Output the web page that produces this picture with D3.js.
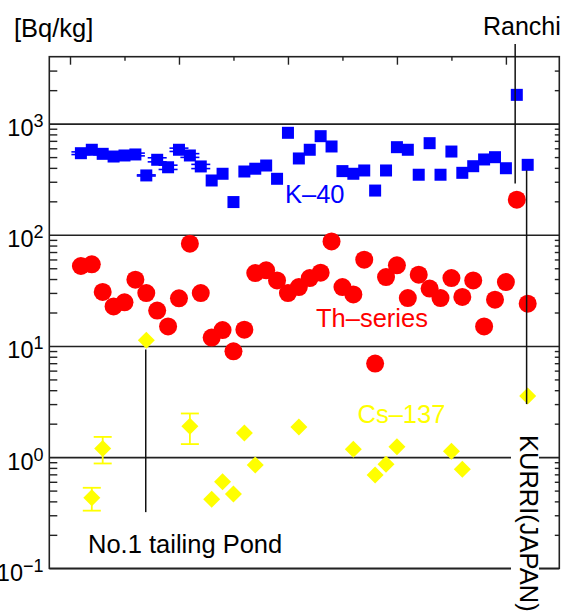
<!DOCTYPE html>
<html><head><meta charset="utf-8">
<script src="https://cdn.jsdelivr.net/npm/d3@7"></script>
<style>html,body{margin:0;padding:0;background:#fff}svg{display:block}text{font-family:"Liberation Sans",Arial,sans-serif}</style>
</head><body>
<svg id="c" width="565" height="614"></svg>
<script>
// ---- data ----
const k40X = [1,2,3,4,5,6,7,8,9,10,11,12,13,14,15,16,17,18,19,20,21,22,23,24,25,26,27,28,29,30,31,32,33,34,35,36,37,38,39,40,41,42];
const k40 = [542,582,535,506,517,528,342,473,405,582,517,412,308,354,197,371,393,420,319,827,486,582,771,623,374,354,379,250,379,614,582,347,667,347,561,361,414,476,499,397,1815,426];
const k40Err = [15,10,10,10,10,15,4,20,18,20,20,18];
const thX = k40X;
const th = [52.4,54.2,30.6,22.7,24.7,39.5,29.9,20.8,15.0,26.8,83.2,29.9,11.9,13.9,8.96,14.0,45.3,47.9,38.9,29.9,33.9,40.8,45.6,87.2,33.9,29.1,59.7,6.95,41.7,53.1,27.0,43.8,32.8,27.0,40.8,27.6,38.9,15.0,26.1,37.6,207,24.0];
const csX = [2,3,7,11,13,14,15,16,17,21,26,28,29,30,35,36,42];
const cs = [0.431,1.197,11.25,1.90,0.419,0.600,0.465,1.65,0.848,1.87,1.18,0.689,0.865,1.24,1.13,0.780,3.55];
const csErrX = [2,3,11];
const csErrLo = [0.33,0.877,1.31];
const csErrHi = [0.53,1.52,2.47];
const decades = [0.1,1,10,100,1000];
const decadeExp = ["\u22121","0","1","2","3"];
const xMajor = [0,10,20,30,40];
const xMinor = [5,15,25,35];
// annotation anchors (data units)
const ranchiX = 40.85, ranchiTop = 5200, ranchiBottom = 290;
const kurriX = 41.9, kurriTop = 380, kurriBottom = 3.0;
const pondX = 6.95, pondTop = 9.3, pondBottom = 0.32;

const svg = d3.select("#c");
const L = 49.3, R = 559.3, T = 56.7, B = 568.3;
const x = d3.scaleLinear().domain([-1.9, 44.9]).range([L, R]);
const y = d3.scaleLog().domain([0.1, 4000]).range([B, T]);

svg.append("rect").attr("width",565).attr("height",614).attr("fill","#fff");

// minor log ticks
const minors = [];
for (let e = -1; e <= 3; e++) for (let m = 2; m <= 9; m++) { const v = m*Math.pow(10,e); if (v < 4000) minors.push(v); }

const ink = "#222";
// gridlines
svg.append("g").attr("transform",`translate(${L},0)`)
  .call(d3.axisRight(y).tickValues(decades).tickSize(R-L).tickFormat(""))
  .call(g=>{g.select(".domain").remove(); g.selectAll("line").attr("stroke",ink).attr("stroke-width",1.6);});
// left minor ticks
svg.append("g").attr("transform",`translate(${L},0)`)
  .call(d3.axisRight(y).tickValues(minors).tickSize(8).tickFormat(""))
  .call(g=>{g.select(".domain").remove(); g.selectAll("line").attr("stroke",ink).attr("stroke-width",1.4);});
// right minor ticks
svg.append("g").attr("transform",`translate(${R},0)`)
  .call(d3.axisLeft(y).tickValues(minors).tickSize(4.5).tickFormat(""))
  .call(g=>{g.select(".domain").remove(); g.selectAll("line").attr("stroke",ink).attr("stroke-width",1.4);});
// top ticks
svg.append("g").attr("transform",`translate(0,${T})`)
  .call(d3.axisBottom(x).tickValues(xMajor).tickSize(8).tickFormat(""))
  .call(g=>{g.select(".domain").remove(); g.selectAll("line").attr("stroke",ink).attr("stroke-width",1.4);});
svg.append("g").attr("transform",`translate(0,${T})`)
  .call(d3.axisBottom(x).tickValues(xMinor).tickSize(4).tickFormat(""))
  .call(g=>{g.select(".domain").remove(); g.selectAll("line").attr("stroke",ink).attr("stroke-width",1.4);});
// frame
svg.append("rect").attr("x",L).attr("y",T).attr("width",R-L).attr("height",B-T)
  .attr("fill","none").attr("stroke",ink).attr("stroke-width",1.6);

// y tick labels
const lab = svg.append("g");
decades.forEach((d,i)=>{
  const t = lab.append("text").attr("x",43.5).attr("y",y(d)+12.5).attr("text-anchor","end")
    .attr("font-size",23.5).attr("fill","#000");
  t.append("tspan").text("10");
  t.append("tspan").attr("dy",-9).attr("font-size",18).text(decadeExp[i]);
});

// K-40 error bars
const blue = "#0000ff", red = "#ff0000", yel = "#ffff00";
const eb = svg.append("g").attr("stroke",blue).attr("stroke-width",1.6);
k40Err.forEach((e,i)=>{
  const cx = x(k40X[i]), y1 = y(k40[i]+e), y0 = y(k40[i]-e);
  eb.append("line").attr("x1",cx).attr("x2",cx).attr("y1",y1).attr("y2",y0);
  eb.append("line").attr("x1",cx-9.5).attr("x2",cx+9.5).attr("y1",y1).attr("y2",y1);
  eb.append("line").attr("x1",cx-9.5).attr("x2",cx+9.5).attr("y1",y0).attr("y2",y0);
});
// K-40 squares
svg.append("g").selectAll("rect").data(k40).join("rect")
  .attr("x",(d,i)=>x(k40X[i])-6).attr("y",d=>y(d)-6).attr("width",12).attr("height",12).attr("fill",blue);

// Th circles
svg.append("g").selectAll("circle").data(th).join("circle")
  .attr("cx",(d,i)=>x(thX[i])).attr("cy",d=>y(d)).attr("r",9).attr("fill",red);

// Cs error bars
const ey = svg.append("g").attr("stroke",yel).attr("stroke-width",1.8);
csErrX.forEach((xx,i)=>{
  const cx = x(xx), y1 = y(csErrHi[i]), y0 = y(csErrLo[i]);
  ey.append("line").attr("x1",cx).attr("x2",cx).attr("y1",y1).attr("y2",y0);
  ey.append("line").attr("x1",cx-9).attr("x2",cx+9).attr("y1",y1).attr("y2",y1);
  ey.append("line").attr("x1",cx-9).attr("x2",cx+9).attr("y1",y0).attr("y2",y0);
});
// Cs diamonds
svg.append("g").selectAll("path").data(cs).join("path")
  .attr("d",(d,i)=>{const cx=x(csX[i]), cy=y(d), h=8.5; return `M${cx},${cy-h}L${cx+h},${cy}L${cx},${cy+h}L${cx-h},${cy}Z`;})
  .attr("fill",yel);

// annotation lines
const ann = svg.append("g").attr("stroke","#111").attr("stroke-width",1.5);
ann.append("line").attr("x1",x(ranchiX)).attr("x2",x(ranchiX)).attr("y1",y(ranchiTop)).attr("y2",y(ranchiBottom));
ann.append("line").attr("x1",x(kurriX)).attr("x2",x(kurriX)).attr("y1",y(kurriTop)).attr("y2",y(kurriBottom));
ann.append("line").attr("x1",x(pondX)).attr("x2",x(pondX)).attr("y1",y(pondTop)).attr("y2",y(pondBottom));

// texts
const fs = 25.5;
svg.append("text").attr("x",14).attr("y",37).attr("font-size",fs).attr("fill","#000").text("[Bq/kg]");
svg.append("text").attr("x",483).attr("y",35).attr("font-size",25).attr("fill","#000").text("Ranchi");
svg.append("text").attr("x",285).attr("y",203).attr("font-size",fs).attr("fill",blue).text("K\u201340");
svg.append("text").attr("x",316).attr("y",327).attr("font-size",fs).attr("fill",red).text("Th\u2013series");
svg.append("text").attr("x",357.5).attr("y",423).attr("font-size",fs).attr("fill",yel).text("Cs\u2013137");
svg.append("text").attr("x",88).attr("y",553).attr("font-size",fs).attr("fill","#000").text("No.1 tailing Pond");
// KURRI label with white background
svg.append("rect").attr("x",511).attr("y",429).attr("width",28).attr("height",190).attr("fill","#fff");
svg.append("text").attr("transform","translate(520,435) rotate(90)").attr("font-size",fs).attr("fill","#000").text("KURRI(JAPAN)");
</script>
</body></html>
